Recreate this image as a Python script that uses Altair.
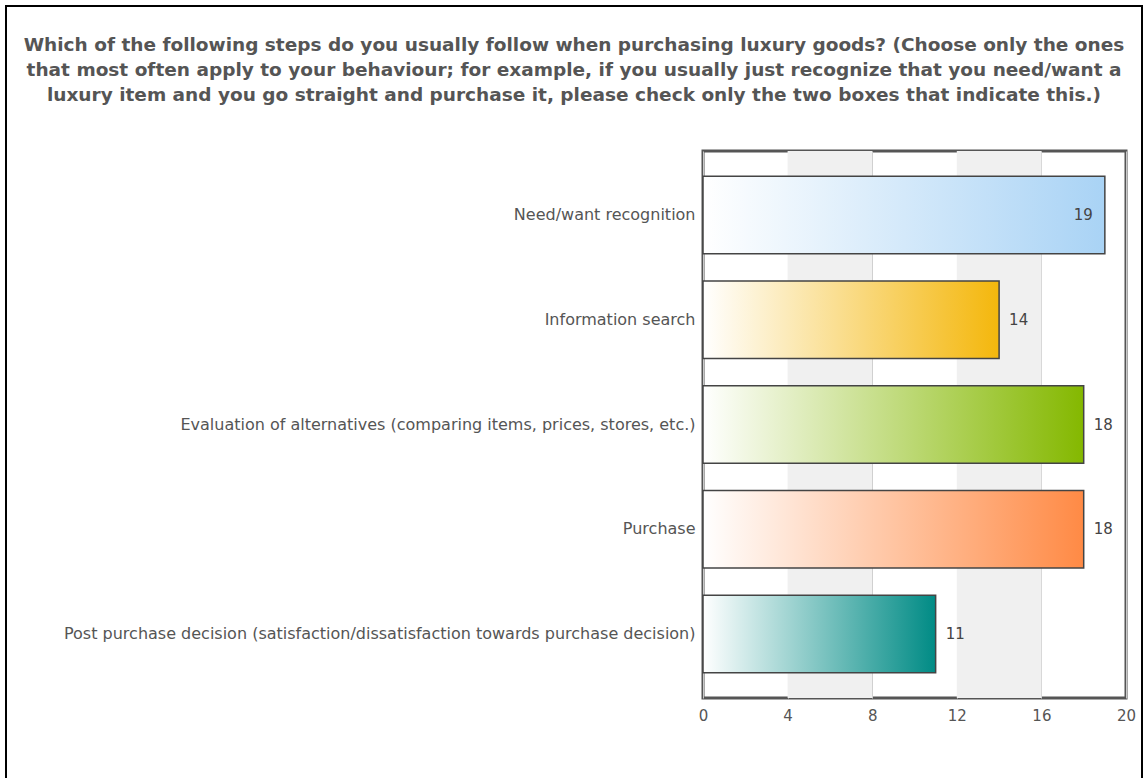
import altair as alt
import pandas as pd

categories = [
    "Need/want recognition",
    "Information search",
    "Evaluation of alternatives (comparing items, prices, stores, etc.)",
    "Purchase",
    "Post purchase decision (satisfaction/dissatisfaction towards purchase decision)",
]
values = [19, 14, 18, 18, 11]
colors = ["#a9d3f5", "#f4b70c", "#84b800", "#ff8a45", "#008b85"]
band_start = [4, 12]
band_end = [8, 16]
x_ticks = [0, 4, 8, 12, 16, 20]
title_lines = [
    "Which of the following steps do you usually follow when purchasing luxury goods? (Choose only the ones",
    "that most often apply to your behaviour; for example, if you usually just recognize that you need/want a",
    "luxury item and you go straight and purchase it, please check only the two boxes that indicate this.)",
]

df = pd.DataFrame({"cat": categories, "val": values})
bands = pd.DataFrame({"a": band_start, "b": band_end})

W, H = 423, 547
PL, PT = 703, 151
FS = 16

x_scale = alt.Scale(domain=[0, 20], nice=False)
y_scale = alt.Scale(domain=categories, paddingInner=0.26, paddingOuter=0.24)

bg = alt.Chart(bands).mark_rect(color="#f0f0f0").encode(
    x=alt.X("a:Q", scale=x_scale, axis=alt.Axis(values=x_ticks, grid=True, gridColor="#c8c8c8",
                                                   domain=False, ticks=False, labelPadding=10,
                                                   labelFlush=False,
                                                   labelColor="#555555", labelFont="DejaVu Sans",
                                                   labelFontSize=FS - 1, title=None)),
    x2="b:Q",
)

layers = [bg]
for cat, c in zip(categories, colors):
    grad = alt.LinearGradient(
        gradient="linear",
        stops=[alt.GradientStop(color="#ffffff", offset=0), alt.GradientStop(color=c, offset=1)],
        x1=0, x2=1, y1=0, y2=0,
    )
    layers.append(
        alt.Chart(df).transform_filter(alt.datum.cat == cat).mark_bar(
            color=grad, stroke="#444444", strokeWidth=1.5
        ).encode(
            x=alt.X("val:Q", scale=x_scale),
            y=alt.Y("cat:N", scale=y_scale, sort=categories,
                    axis=alt.Axis(title=None, domain=False, ticks=False, labelPadding=8,
                                  labelLimit=700, labelColor="#555555",
                                  labelFont="DejaVu Sans", labelFontSize=FS)),
        )
    )

text_in = alt.Chart(df).transform_filter(alt.datum.val >= 19).mark_text(
    align="right", dx=-12, font="DejaVu Sans", fontSize=FS - 1, color="#444444"
).encode(x=alt.X("val:Q", scale=x_scale), y=alt.Y("cat:N", scale=y_scale, sort=categories), text="val:Q")
text_out = alt.Chart(df).transform_filter(alt.datum.val < 19).mark_text(
    align="left", dx=10, font="DejaVu Sans", fontSize=FS - 1, color="#444444"
).encode(x=alt.X("val:Q", scale=x_scale), y=alt.Y("cat:N", scale=y_scale, sort=categories), text="val:Q")

frame = alt.Chart(df).mark_rect(fill=None, stroke="#000000", strokeWidth=2).encode(
    x=alt.value(6 - PL), x2=alt.value(1142 - PL), y=alt.value(6 - PT), y2=alt.value(900 - PT)
)

chart = alt.layer(*layers, text_in, text_out, frame).properties(
    width=W, height=H,
    background="white",
    title=alt.TitleParams(
        text=title_lines, anchor="middle", frame="group", dx=574 - (PL + W / 2), offset=-99,
        font="DejaVu Sans", fontSize=18.5, fontWeight="bold", color="#555555", lineHeight=25,
    ),
    autosize=alt.AutoSizeParams(type="none"),
    padding={"left": PL, "top": PT, "right": 1147 - PL - W, "bottom": 778 - PT - H},
).configure_view(stroke="#555555", strokeWidth=3)

chart.save("out.html", embed_options={"renderer": "svg", "actions": False})
